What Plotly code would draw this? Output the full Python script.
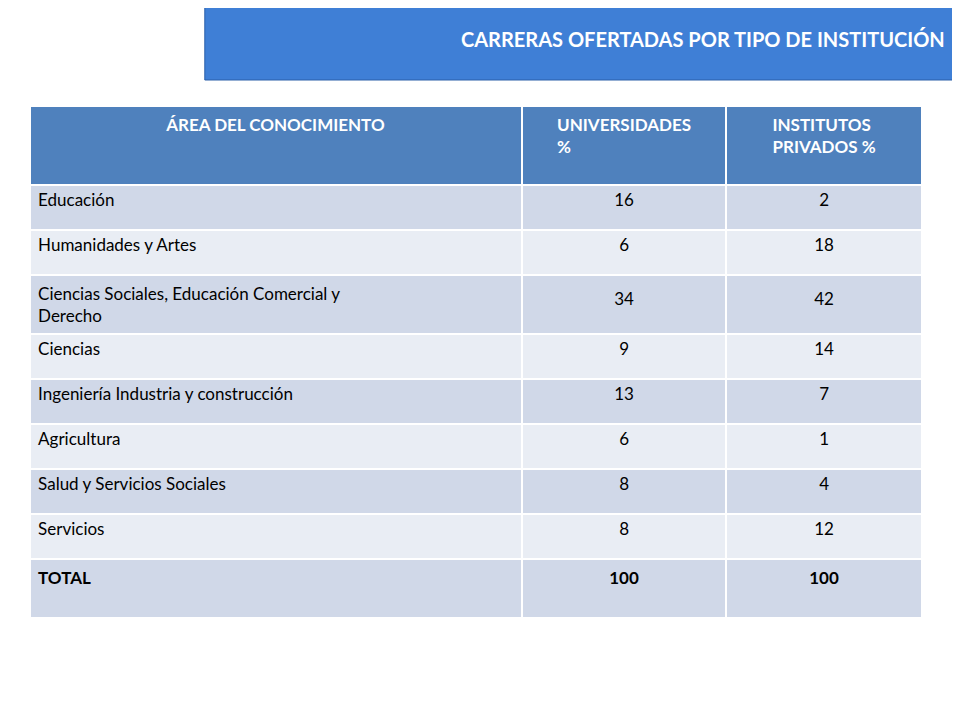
import plotly.graph_objects as go

# Table data
header = ["<b>ÁREA DEL CONOCIMIENTO</b>", "<b>UNIVERSIDADES</b><br><b>%</b>", "<b>INSTITUTOS</b><br><b>PRIVADOS %</b>"]
areas = ["Educación", "Humanidades y Artes",
         "Ciencias Sociales, Educación Comercial y<br>Derecho",
         "Ciencias", "Ingeniería Industria y construcción", "Agricultura",
         "Salud y Servicios Sociales", "Servicios", "<b>TOTAL</b><br> "]
universidades = ["16", "6", "<br>34", "9", "13", "6", "8", "8", "<b>100</b>"]
institutos = ["2", "18", "<br>42", "14", "7", "1", "4", "12", "<b>100</b>"]

row_colors = ["#D0D8E8" if i % 2 == 0 else "#E9EDF4" for i in range(len(areas))]

fig = go.Figure(go.Table(
    domain=dict(x=[0.023, 0.953], y=[0.05, 0.864]),
    columnwidth=[492, 204, 196],
    header=dict(values=header, fill_color="#4F81BD", line_color="white", line_width=2,
                align="center", height=79,
                font=dict(family="Lato", size=17, color="white")),
    cells=dict(values=[areas, universidades, institutos],
               fill_color=[row_colors] * 3, line_color="white", line_width=2,
               align=["left", "center", "center"], height=45,
               font=dict(family="Lato", size=17, color="black")),
))

# Title banner
fig.add_shape(type="rect", xref="paper", yref="paper", x0=0.205, x1=0.99, y0=0.90, y1=1.01,
              fillcolor="#3F7FD6", line=dict(color="#2A5FA8", width=1))
fig.add_annotation(text="<b>CARRERAS OFERTADAS POR TIPO DE INSTITUCIÓN</b>", xref="paper", yref="paper",
                   x=0.978, y=0.957, xanchor="right", yanchor="middle", showarrow=False,
                   font=dict(family="Lato", size=20, color="white"))

fig.update_layout(width=960, height=720, margin=dict(l=0, r=0, t=0, b=0),
                  paper_bgcolor="white", plot_bgcolor="white")
fig.write_html("out.html")
